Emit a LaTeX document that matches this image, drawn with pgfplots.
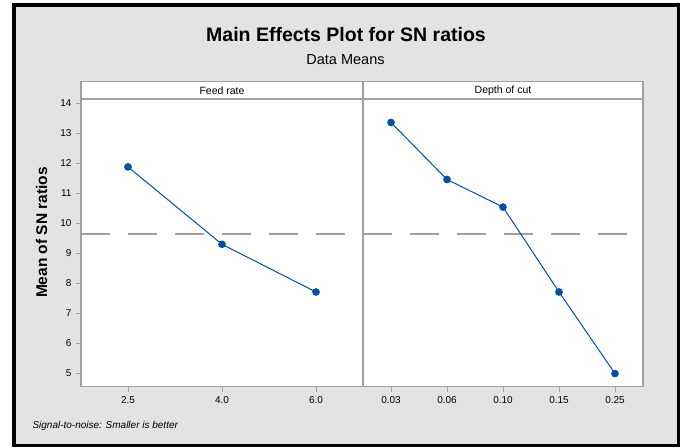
\documentclass[border=0pt]{standalone}
\usepackage{fontspec}
\setmainfont{Liberation Sans}
\usepackage{pgfplots}
\pgfplotsset{compat=1.18}
\definecolor{bgGray}{RGB}{227,227,227}
\definecolor{axGray}{RGB}{160,160,160}
\definecolor{mtBlue}{RGB}{0,82,160}
\begin{document}
\begin{tikzpicture}
\path[use as bounding box, fill=white] (0,0) rectangle (685bp,-448bp);
\draw[line width=3.5bp, fill=bgGray] (13.75bp,-4.75bp) rectangle (678.25bp,-445.5bp);
\pgfplotsset{
  every axis/.append style={
    scale only axis, anchor=south west, height=287.7bp,
    ymin=4.553, ymax=14.143,
    axis line style={axGray, line width=1.3bp},
    tick style={axGray, line width=1bp},
    tick align=outside, major tick length=5bp,
    xtick pos=bottom, ytick pos=left,
    axis background/.style={fill=white},
    tick label style={font=\fontsize{10bp}{12bp}\selectfont, text=black},
    /pgf/number format/assume math mode=true,
    clip=false,
  },
}
% Feed rate panel
\begin{axis}[at={(81bp,-386.7bp)}, width=282bp,
  xmin=-0.5, xmax=2.5, xtick={0,1,2}, xticklabels={2.5,4.0,6.0},
  ytick={5,6,...,14}, yticklabel style={xshift=-1bp},
  xticklabel style={yshift=-1bp}]
\addplot[axGray, line width=1.5bp, dash pattern=on 29bp off 18bp] coordinates {(-0.5,9.65) (2.5,9.65)};
\addplot[mtBlue, line width=1bp, mark=*, mark size=3.3bp, mark options={solid, fill=mtBlue}] coordinates {
(0,11.88) (1,9.30) (2,7.71)};
\end{axis}
% Depth of cut panel
\begin{axis}[at={(363bp,-386.7bp)}, width=280bp,
  xmin=-0.5, xmax=4.5, xtick={0,1,2,3,4}, xticklabels={0.03,0.06,0.10,0.15,0.25},
  ytick=\empty, xticklabel style={yshift=-1bp}]
\addplot[axGray, line width=1.5bp, dash pattern=on 29bp off 18bp] coordinates {(-0.5,9.65) (4.5,9.65)};
\addplot[mtBlue, line width=1bp, mark=*, mark size=3.3bp, mark options={solid, fill=mtBlue}] coordinates {
(0,13.36) (1,11.46) (2,10.54) (3,7.71) (4,4.99)};
\end{axis}
% strips
\draw[axGray, line width=1.3bp, fill=white] (81bp,-81.5bp) rectangle (363bp,-99bp);
\draw[axGray, line width=1.3bp, fill=white] (363bp,-81.5bp) rectangle (643bp,-99bp);
\node[font=\fontsize{10.5bp}{12bp}\selectfont] at (222bp,-90.3bp) {Feed rate};
\node[font=\fontsize{10.5bp}{12bp}\selectfont] at (503bp,-90.3bp) {Depth of cut};
% titles
\node[anchor=base, font=\bfseries\fontsize{19.5bp}{22bp}\selectfont] at (346bp,-41.7bp) {Main Effects Plot for SN ratios};
\node[anchor=base, font=\fontsize{14.5bp}{16bp}\selectfont] at (345.5bp,-64bp) {Data Means};
\node[rotate=90, font=\bfseries\fontsize{15.5bp}{17bp}\selectfont] at (41.7bp,-232.5bp) {Mean of SN ratios};
\node[anchor=base west, font=\itshape\fontsize{10bp}{12bp}\selectfont] at (29bp,-428bp) {Signal-to-noise: Smaller is better};
\end{tikzpicture}
\end{document}
